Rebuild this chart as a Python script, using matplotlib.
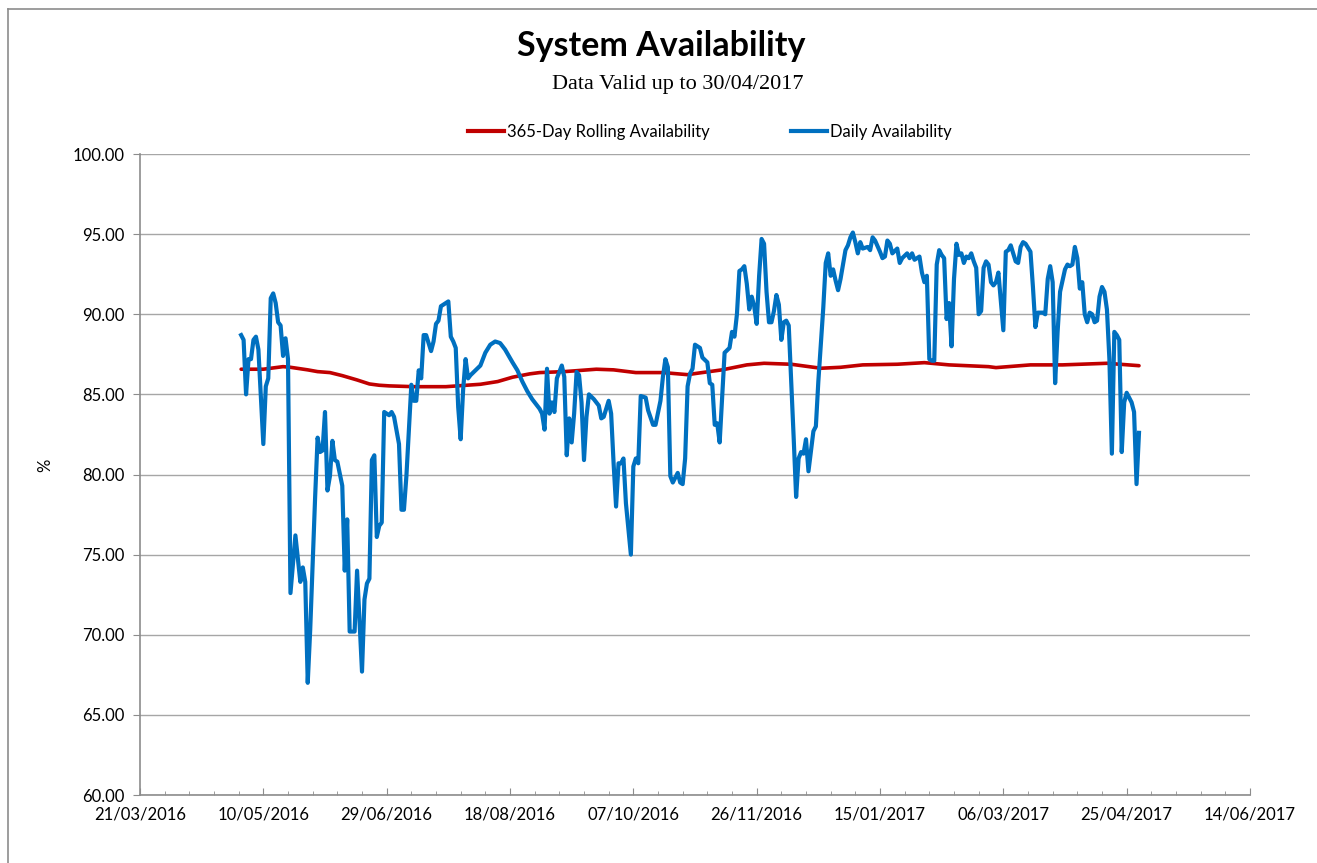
import datetime as dt
import numpy as np
import matplotlib
matplotlib.use("Agg")
import matplotlib.pyplot as plt
import matplotlib.dates as mdates
from matplotlib.ticker import FixedLocator, FormatStrFormatter
from matplotlib.lines import Line2D

# days counted from 30/04/2016
start = dt.date(2016, 4, 30)

daily_day = [1, 2, 3, 4, 5, 6, 7, 8, 10, 11, 12, 13, 14, 15, 16, 17, 18, 19, 20,
             21, 23, 25, 26, 27, 28, 29, 31, 32, 33, 34, 35, 36, 37, 38, 39, 40,
             42, 43, 44, 45, 47, 48, 50, 51, 52, 53, 54, 55, 56, 57, 58, 59, 61,
             62, 63, 65, 66, 67, 68, 70, 71, 72, 73, 74, 75, 76, 78, 79, 80, 81,
             82, 84, 85, 86, 87, 88, 89, 90, 91, 92, 93, 94, 96, 98, 100, 102,
             104, 106, 108, 111, 113, 115, 117, 119, 121, 122, 123, 124, 125,
             126, 127, 128, 129, 131, 132, 133, 134, 135, 136, 137, 138, 139,
             140, 141, 142, 144, 146, 147, 148, 150, 151, 152, 153, 154, 155,
             156, 157, 159, 160, 161, 162, 163, 165, 166, 168, 169, 171, 172,
             173, 174, 175, 176, 178, 179, 180, 181, 182, 183, 184, 185, 187,
             188, 190, 191, 192, 193, 194, 195, 197, 199, 200, 201, 202, 203,
             204, 205, 206, 207, 208, 209, 210, 211, 212, 213, 214, 215, 216,
             217, 218, 219, 220, 221, 222, 223, 225, 226, 227, 228, 229, 230,
             231, 233, 234, 235, 237, 238, 239, 240, 241, 242, 243, 244, 246,
             247, 248, 249, 250, 251, 252, 253, 255, 256, 257, 258, 260, 261,
             262, 263, 264, 265, 267, 268, 269, 271, 272, 273, 274, 276, 277,
             278, 279, 280, 281, 282, 283, 284, 285, 286, 287, 288, 289, 290,
             291, 292, 293, 294, 295, 296, 297, 298, 299, 300, 301, 302, 303,
             304, 305, 306, 307, 308, 309, 310, 311, 312, 313, 314, 315, 316,
             317, 318, 319, 321, 322, 323, 324, 325, 326, 327, 328, 329, 330,
             331, 332, 333, 335, 336, 337, 338, 339, 340, 341, 342, 343, 344,
             345, 346, 347, 348, 349, 350, 351, 352, 353, 354, 355, 356, 357,
             358, 359, 360, 361, 362, 363, 364, 365]
daily_val = [88.7, 88.4, 85.0, 87.2, 87.2, 88.4, 88.6, 87.8, 81.9, 85.5, 86.0,
             91.0, 91.3, 90.7, 89.5, 89.3, 87.4, 88.5, 87.2,
             72.6, 76.2, 73.3, 74.2, 73.3, 67.0, 70.3, 78.6, 82.3, 81.4, 81.5,
             83.9, 79.0, 79.9, 82.1, 80.9, 80.8,
             79.3, 74.0, 77.2, 70.2, 70.2, 74.0, 67.7, 72.2, 73.2, 73.5, 80.9,
             81.2, 76.1, 76.8, 77.0, 83.9, 83.7,
             83.9, 83.6, 81.9, 77.8, 77.8, 79.9, 85.6, 84.6, 84.6, 86.5, 86.0,
             88.7, 88.7, 87.7, 88.3, 89.4, 89.6,
             90.5, 90.7, 90.8, 88.6, 88.3, 87.9, 84.2, 82.2, 85.3, 87.2, 86.0,
             86.2, 86.5, 86.8, 87.6, 88.1,
             88.3, 88.2, 87.8, 87.0, 86.5, 85.8, 85.2, 84.7, 84.3, 84.1, 83.8,
             82.8, 86.6,
             83.8, 84.5, 83.9, 86.0, 86.8, 86.1, 81.2, 83.5, 82.0, 83.8, 86.4,
             86.2, 84.5,
             80.9, 83.6, 85.0, 84.7, 84.3, 83.5, 83.6, 84.6, 83.8, 80.7, 78.0,
             80.7, 80.7,
             81.0, 78.2, 75.0, 80.5, 81.0, 80.7, 84.9, 84.8, 84.0, 83.1, 83.1,
             84.6, 86.1,
             87.2, 86.7, 79.9, 79.5, 80.1, 79.5, 79.4, 81.0, 85.5, 86.3, 86.6,
             88.1, 87.9,
             87.3, 87.0, 85.7, 85.6, 83.1, 83.2, 82.0, 87.6, 87.9, 88.9, 88.6,
             90.0, 92.7,
             92.8, 93.0, 91.9, 90.3, 91.1, 90.5, 89.4, 92.4, 94.7, 94.4, 91.4,
             89.5, 89.5,
             90.2, 91.2, 90.6, 88.4, 89.5, 89.6, 89.3, 82.3, 78.6, 81.0, 81.4,
             81.3, 82.2,
             80.2, 82.7, 83.0, 85.8, 90.4, 93.2, 93.8, 92.4, 92.8, 92.1, 91.5,
             92.2, 94.0,
             94.3, 94.8, 95.1, 94.5, 93.8, 94.5, 94.1, 94.2, 94.0, 94.8, 94.6,
             93.9, 93.5,
             93.6, 94.6, 94.4, 93.8, 94.1, 93.2, 93.5, 93.8, 93.5, 93.8, 93.4,
             93.6, 92.6,
             92.0, 92.4, 87.2, 87.1, 87.1, 93.1, 94.0, 93.7, 93.5, 89.7, 90.7,
             88.0, 92.2,
             94.4, 93.7, 93.8, 93.2, 93.6, 93.5, 93.8, 93.3, 92.9, 90.0, 90.2,
             92.9, 93.3,
             93.1, 92.0, 91.8, 92.0, 92.6, 90.8, 89.0, 93.9, 94.0, 94.3, 93.8,
             93.3, 93.2,
             94.2, 94.5, 94.4, 93.9, 91.7, 89.2, 90.1, 90.1, 90.1, 90.0, 92.2,
             93.0, 92.0,
             85.7, 88.9, 91.4, 92.8, 93.1, 93.0, 93.1, 94.2, 93.5, 91.6, 92.0,
             90.0, 89.5,
             90.1, 90.0, 89.5, 89.6, 91.1, 91.7, 91.4, 90.3, 87.2, 81.3, 88.9,
             88.7, 88.4,
             81.4, 84.5, 85.1, 84.8, 84.5, 83.9, 79.4, 82.6]

rolling_day = [1, 10, 18, 21, 28, 32, 37, 42, 48, 53, 57, 61, 71, 84, 98, 105,
               111, 118, 122, 132, 145, 152, 161, 172, 182, 186, 196, 206, 213,
               224, 236, 244, 253, 267, 278, 288, 304, 307, 321, 334, 352, 365]
rolling_val = [86.57, 86.57, 86.73, 86.69, 86.53, 86.42, 86.36, 86.17, 85.90,
               85.65, 85.57, 85.53, 85.48, 85.48, 85.63, 85.80, 86.07, 86.28,
               86.36, 86.42, 86.57, 86.53, 86.36, 86.36, 86.23, 86.32, 86.53,
               86.84, 86.94, 86.88, 86.63, 86.69, 86.84, 86.88, 86.98, 86.84,
               86.73, 86.67, 86.84, 86.84, 86.94, 86.79]

daily_dates = [start + dt.timedelta(days=d) for d in daily_day]
rolling_dates = [start + dt.timedelta(days=d) for d in rolling_day]

sans = "Lato"
fig = plt.figure(figsize=(13.17, 8.63), dpi=100)
ax = fig.add_axes([140 / 1317, 1 - 795 / 863, 1110 / 1317, 641 / 863])

red = "#C00000"
blue = "#0070C0"
ax.plot(rolling_dates, rolling_val, color=red, lw=2.6, solid_capstyle="round", zorder=3)
ax.plot(daily_dates, daily_val, color=blue, lw=3.0, solid_joinstyle="round", zorder=4)

x0 = mdates.date2num(dt.date(2016, 3, 21))
ax.set_xlim(x0, x0 + 450)
ax.set_ylim(60, 100)
ax.xaxis.set_major_locator(FixedLocator(np.arange(x0, x0 + 451, 50)))
ax.xaxis.set_minor_locator(FixedLocator(np.arange(x0, x0 + 451, 10)))
ax.xaxis.set_major_formatter(mdates.DateFormatter("%d/%m/%Y"))
ax.yaxis.set_major_locator(FixedLocator(np.arange(60, 101, 5)))
ax.yaxis.set_major_formatter(FormatStrFormatter("%.2f"))

ax.grid(axis="y", color="#a6a6a6", lw=1.0)
ax.set_axisbelow(True)
for s in ["top", "right"]:
    ax.spines[s].set_visible(False)
for s in ["left", "bottom"]:
    ax.spines[s].set_color("#8c8c8c")
    ax.spines[s].set_linewidth(1.2)
ax.tick_params(axis="x", which="major", direction="in", length=5, color="#8c8c8c", pad=8)
ax.tick_params(axis="x", which="minor", direction="in", length=3, color="#8c8c8c")
ax.tick_params(axis="y", direction="out", length=5, color="#8c8c8c", pad=6)
for lab in ax.get_xticklabels() + ax.get_yticklabels():
    lab.set_fontfamily(sans)
    lab.set_fontsize(12)

fig.text(45 / 1317, 1 - 465 / 863, "%", rotation=90, ha="center", va="center",
         fontsize=12, family=sans)

fig.text(661 / 1317, 1 - 46 / 863, "System Availability", ha="center", va="center",
         fontsize=24.5, fontweight="bold", family=sans)
fig.text(678 / 1317, 1 - 85 / 863, "Data Valid up to 30/04/2017", ha="center",
         va="center", fontsize=16, family="Liberation Serif")

handles = [Line2D([], [], color=red, lw=3), Line2D([], [], color=blue, lw=3)]
fig.legend(handles, ["365-Day Rolling Availability", "Daily Availability"],
           loc="center", bbox_to_anchor=(710 / 1317, 1 - 132 / 863), ncol=2,
           frameon=False, handlelength=2.15, handletextpad=0.2, columnspacing=4.9,
           prop={"family": sans, "size": 12})

# chart area border
fig.add_artist(Line2D([8 / 1317, 1], [1 - 9 / 863, 1 - 9 / 863],
                      transform=fig.transFigure, color="#8c8c8c", lw=1.2))
fig.add_artist(Line2D([8 / 1317, 8 / 1317], [0, 1 - 9 / 863],
                      transform=fig.transFigure, color="#8c8c8c", lw=1.2))

fig.savefig("out.png", dpi=100)
